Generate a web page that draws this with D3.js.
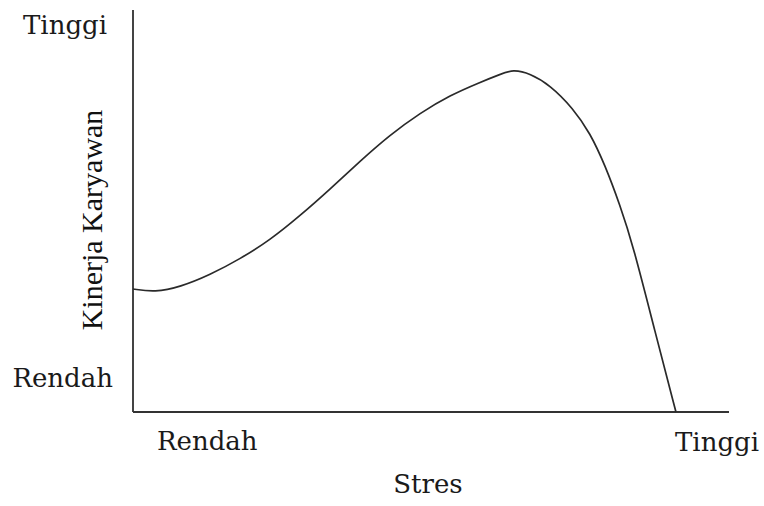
<!DOCTYPE html>
<meta charset="utf-8">
<script src="https://d3js.org/d3.v7.min.js"></script>
<style>
  body { margin: 0; background: #fff; }
</style>
<div id="my_dataviz"></div>
<script>

// stress level (0 = rendah, 10 = tinggi)
var stres = [0, 0.37, 0.79, 1.29, 1.80, 2.30, 2.80, 3.31, 3.81, 4.31, 4.82, 5.32, 5.82, 6.16, 6.38, 6.66, 7.00, 7.38, 7.67, 7.92, 8.17, 8.39, 8.76, 9.11];
// employee performance (0 = rendah, 10 = tinggi)
var kinerja = [3.06, 2.98, 3.11, 3.41, 3.81, 4.28, 4.88, 5.55, 6.24, 6.89, 7.44, 7.88, 8.20, 8.40, 8.52, 8.42, 8.13, 7.56, 6.94, 6.14, 5.15, 4.15, 1.99, 0];

var xLabels = ["Rendah", "Tinggi"];
var yLabels = ["Rendah", "Tinggi"];

var margin = {top: 10, right: 35, bottom: 94, left: 133},
    width = 764 - margin.left - margin.right,
    height = 506 - margin.top - margin.bottom;

var svg = d3.select("#my_dataviz")
  .append("svg")
    .attr("width", 764)
    .attr("height", 506)
  .append("g")
    .attr("transform", "translate(" + margin.left + "," + margin.top + ")");

var x = d3.scaleLinear().domain([0, 10]).range([0, width]);
var y = d3.scaleLinear().domain([0, 10]).range([height, 0]);

var data = stres.map(function(s, i) { return {s: s, k: kinerja[i]}; });

// axes (plain lines, no ticks)
svg.append("line")
  .attr("x1", x(0)).attr("x2", x(0))
  .attr("y1", y(10)).attr("y2", y(0))
  .attr("stroke", "#444").attr("stroke-width", 2);
svg.append("line")
  .attr("x1", x(0)).attr("x2", x(10))
  .attr("y1", y(0)).attr("y2", y(0))
  .attr("stroke", "#333").attr("stroke-width", 1.8);

// curve
var line = d3.line()
  .x(function(d) { return x(d.s); })
  .y(function(d) { return y(d.k); })
  .curve(d3.curveBasis);

svg.append("path")
  .datum(data)
  .attr("d", line)
  .attr("fill", "none")
  .attr("stroke", "#2a2a2a")
  .attr("stroke-width", 1.7);

var labelFont = "'DejaVu Serif', serif";

// y tick labels
svg.append("text")
  .attr("x", -26).attr("y", 24)
  .attr("text-anchor", "end")
  .style("font-family", labelFont).style("font-size", "26px").attr("fill", "#1a1a1a")
  .text(yLabels[1]);
svg.append("text")
  .attr("x", -20).attr("y", 377)
  .attr("text-anchor", "end")
  .style("font-family", labelFont).style("font-size", "26px").attr("fill", "#1a1a1a")
  .text(yLabels[0]);

// x tick labels
svg.append("text")
  .attr("x", 24).attr("y", 440)
  .style("font-family", labelFont).style("font-size", "26px").attr("fill", "#1a1a1a")
  .text(xLabels[0]);
svg.append("text")
  .attr("x", 542).attr("y", 441)
  .style("font-family", labelFont).style("font-size", "26px").attr("fill", "#1a1a1a")
  .text(xLabels[1]);

// x axis title
svg.append("text")
  .attr("x", 295).attr("y", 483)
  .attr("text-anchor", "middle")
  .style("font-family", labelFont).style("font-size", "26px").attr("fill", "#1a1a1a")
  .text("Stres");

// y axis title
svg.append("text")
  .attr("transform", "rotate(-90)")
  .attr("x", -210).attr("y", -31)
  .attr("text-anchor", "middle")
  .style("font-family", "'Liberation Serif', serif").style("font-size", "30px").attr("fill", "#111")
  .text("Kinerja Karyawan");

</script>
